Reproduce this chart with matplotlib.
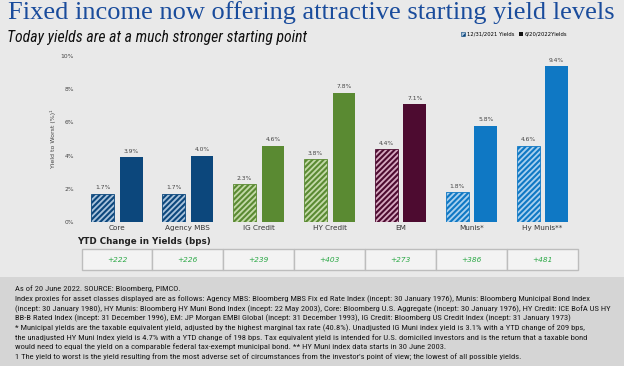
import matplotlib
matplotlib.use("Agg")
import matplotlib.pyplot as plt
from matplotlib.patches import Rectangle, Patch
from matplotlib.transforms import blended_transform_factory
import numpy as np

categories = ["Core", "Agency MBS", "IG Credit", "HY Credit", "EM", "Munis*", "Hy Munis**"]
yields_2021 = [1.7, 1.7, 2.3, 3.8, 4.4, 1.8, 4.6]
yields_2022 = [3.9, 4.0, 4.6, 7.8, 7.1, 5.8, 9.4]
ytd_change = ["+222", "+226", "+239", "+403", "+273", "+386", "+481"]
y_ticks = [0, 2, 4, 6, 8, 10]

solid_colors = ["#0c477c", "#0c477c", "#5a8a32", "#5a8a32", "#4d0b30", "#0f78c4", "#0f78c4"]
light_colors = ["#a9c3dc", "#a9c3dc", "#c3d9a8", "#c3d9a8", "#d6a9c0", "#a9d0ee", "#a9d0ee"]

footnote = [
    "As of 20 June 2022. SOURCE: Bloomberg, PIMCO.",
    "Index proxies for asset classes displayed are as follows: Agency MBS: Bloomberg MBS Fix ed Rate Index (incept: 30 January 1976), Munis: Bloomberg Municipal Bond Index",
    "(incept: 30 January 1980), HY Munis: Bloomberg HY Muni Bond Index (incept: 22 May 2003), Core: Bloomberg U.S. Aggregate (incept: 30 January 1976), HY Credit: ICE BofA US HY",
    "BB-B Rated Index (incept: 31 December 1996), EM: JP Morgan EMBI Global (incept: 31 December 1993), IG Credit: Bloomberg US Credit Index (incept: 31 January 1973)",
    "* Municipal yields are the taxable equivalent yield, adjusted by the highest marginal tax rate (40.8%). Unadjusted IG Muni index yield is 3.1% with a YTD change of 209 bps,",
    "the unadjusted HY Muni Index yield is 4.7% with a YTD change of 198 bps. Tax equivalent yield is intended for U.S. domiciled investors and is the return that a taxable bond",
    "would need to equal the yield on a comparable federal tax-exempt municipal bond. ** HY Muni index data starts in 30 June 2003.",
    "1 The yield to worst is the yield resulting from the most adverse set of circumstances from the investor's point of view; the lowest of all possible yields.",
]

plt.rcParams["hatch.linewidth"] = 1.5
W, H = 624, 366
fig = plt.figure(figsize=(W / 100, H / 100), dpi=100)
fig.patch.set_facecolor("#e9e9e9")

# darker footer band
fig.patches.append(Rectangle((0, 0), 1, (H - 277) / H, transform=fig.transFigure,
                             facecolor="#d5d5d5", edgecolor="none", zorder=0))

left, right = 78 / W, 592 / W
ax = fig.add_axes([left, (H - 222) / H, right - left, (222 - 56) / H])
ax.set_facecolor("none")
x = np.arange(len(categories))
bw = 0.32
off = 0.2
for i in x:
    ax.bar(i - off, yields_2021[i], bw, facecolor=light_colors[i], edgecolor=solid_colors[i],
           hatch="//////", linewidth=0.6)
    ax.bar(i + off, yields_2022[i], bw, color=solid_colors[i], linewidth=0)
    ax.text(i - off, yields_2021[i] + 0.2, f"{yields_2021[i]:.1f}%", ha="center", va="bottom",
            fontsize=4.3, color="#444444")
    ax.text(i + off, yields_2022[i] + 0.2, f"{yields_2022[i]:.1f}%", ha="center", va="bottom",
            fontsize=4.3, color="#444444")

ax.set_xlim(-0.55, 6.7)
ax.set_ylim(0, 10)
ax.set_yticks(y_ticks)
ax.set_yticklabels([f"{t}%" for t in y_ticks], fontsize=4.3, color="#444444")
ax.set_xticks(x)
ax.set_xticklabels(categories, fontsize=5.2, color="#333333")
ax.tick_params(length=0, pad=3)
ax.tick_params(axis="x", pad=2)
for s in ax.spines.values():
    s.set_visible(False)
ax.set_ylabel("Yield to Worst (%)\u00b9", fontsize=4.5, color="#444444", labelpad=3)

# legend
handles = [Patch(facecolor="#a9c3dc", edgecolor="#0c477c", hatch="/////", linewidth=0.4),
           Patch(facecolor="#111111")]
fig.legend(handles, ["12/31/2021 Yields", "6/20/2022Yields"], loc="center",
           bbox_to_anchor=(514 / W, (H - 34) / H), ncol=2, fontsize=3.8, frameon=False,
           handlelength=0.8, handleheight=0.8, handletextpad=0.3, columnspacing=0.8)

# titles
fig.text(8 / W, (H - 19) / H, "Fixed income now offering attractive starting yield levels",
         fontsize=19, color="#1a4c9c", family="Liberation Serif", ha="left", va="baseline")
fig.text(7 / W, (H - 42) / H, "Today yields are at a much stronger starting point",
         fontsize=11.3, style="italic", color="#111111",
         family=["Roboto Condensed", "Roboto"], ha="left", va="baseline")

# YTD table
fig.text(77 / W, (H - 242) / H, "YTD Change in Yields (bps)", fontsize=6.3, weight="bold",
         color="#222222", ha="left", va="center")
tr = blended_transform_factory(ax.transData, fig.transFigure)
t_top, t_bot = (H - 249) / H, (H - 270) / H
for i in x:
    ax.add_patch(Rectangle((i - 0.5, t_bot), 1.0, t_top - t_bot, transform=tr,
                           facecolor="#f3f3f3", edgecolor="#bdbdbd", linewidth=1.0,
                           clip_on=False))
    ax.text(i, (t_top + t_bot) / 2, ytd_change[i], transform=tr, ha="center", va="center",
            fontsize=5.3, style="italic", color="#2aa845", clip_on=False)

# footnotes
ys = [289, 299, 309, 318, 328, 338, 347, 357]
for line, yy in zip(footnote, ys):
    fig.text(15 / W, (H - yy) / H, line, fontsize=6.1, color="#1a1a1a",
             family=["Roboto Condensed", "DejaVu Sans"], ha="left", va="center")

fig.savefig("out.png", dpi=100, facecolor=fig.get_facecolor())
